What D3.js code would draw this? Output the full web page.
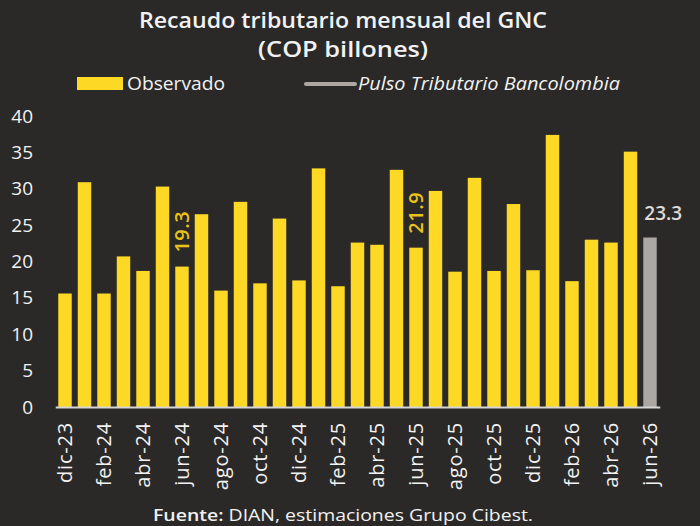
<!DOCTYPE html>
<html>
<head>
  <meta charset="utf-8">
  <title>Recaudo tributario mensual del GNC</title>
  <script src="https://d3js.org/d3.v7.min.js"></script>
  <style>
    body { margin: 0; background: #2b2928; }
    svg { display: block; font-family: "Open Sans", sans-serif; }
  </style>
</head>
<body>
<div id="output"></div>

<script type="text/javascript">

  // data
  var months = ["dic-23","ene-24","feb-24","mar-24","abr-24","may-24","jun-24","jul-24","ago-24","sep-24",
                "oct-24","nov-24","dic-24","ene-25","feb-25","mar-25","abr-25","may-25","jun-25","jul-25",
                "ago-25","sep-25","oct-25","nov-25","dic-25","ene-26","feb-26","mar-26","abr-26","may-26","jun-26"];
  var values = [15.6, 30.9, 15.6, 20.7, 18.7, 30.3, 19.3, 26.5, 16.0, 28.2,
                17.0, 25.9, 17.4, 32.8, 16.6, 22.6, 22.3, 32.6, 21.9, 29.7,
                18.6, 31.5, 18.7, 27.9, 18.8, 37.4, 17.3, 23.0, 22.6, 35.1, 23.3];
  var estimated = ["jun-26"];          // Pulso Tributario Bancolombia
  var labeled = ["jun-24", "jun-25"];  // bars with a value label
  var yTicks = [0, 5, 10, 15, 20, 25, 30, 35, 40];

  var data = months.map(function(m, i){ return {month: m, value: values[i]}; });

  var w = 700, h = 526;
  var margin = {top: 116, right: 40, bottom: 119, left: 55};
  var wChart = w - margin.left - margin.right;
  var hChart = h - margin.top - margin.bottom;

  var yellow = "#fdd925", grey = "#aca7a2", text = "#f2f2f2";

  var x = d3.scaleBand()
          .domain(months)
          .range([0.25, wChart - 0.25])
          .paddingInner(0.31)
          .paddingOuter(0.155);

  var y = d3.scaleLinear()
          .domain([0, 40])
          .range([hChart, 0]);

  var svg = d3.select("#output").append("svg")
          .attr("width", w)
          .attr("height", h);

  svg.append("rect").attr("width", w).attr("height", h).attr("fill", "#2b2928");

  // title
  svg.append("text")
          .attr("x", 343).attr("y", 28)
          .attr("text-anchor", "middle")
          .attr("fill", text)
          .style("font-size", "22px").style("font-weight", 600)
          .attr("textLength", 408).attr("lengthAdjust", "spacingAndGlyphs")
          .text("Recaudo tributario mensual del GNC");
  svg.append("text")
          .attr("x", 343).attr("y", 57)
          .attr("text-anchor", "middle")
          .attr("fill", text)
          .style("font-size", "22px").style("font-weight", 600)
          .attr("textLength", 170).attr("lengthAdjust", "spacingAndGlyphs")
          .text("(COP billones)");

  // legend
  var legend = svg.append("g");
  legend.append("rect")
          .attr("x", 77).attr("y", 77).attr("width", 46).attr("height", 13)
          .attr("fill", yellow);
  legend.append("text")
          .attr("x", 127).attr("y", 90)
          .attr("fill", text).style("font-size", "18px")
          .attr("textLength", 98).attr("lengthAdjust", "spacingAndGlyphs")
          .text("Observado");
  legend.append("line")
          .attr("x1", 306).attr("x2", 355).attr("y1", 84).attr("y2", 84)
          .attr("stroke", grey).attr("stroke-width", 4).attr("stroke-linecap", "round");
  legend.append("text")
          .attr("x", 358).attr("y", 90)
          .attr("fill", text).style("font-size", "18px").style("font-style", "italic")
          .attr("textLength", 262).attr("lengthAdjust", "spacingAndGlyphs")
          .text("Pulso Tributario Bancolombia");

  var chart = svg.append("g")
          .attr("transform", "translate(" + margin.left + "," + margin.top + ")");

  // y axis labels (no line, no ticks)
  var yAxis = d3.axisLeft(y).tickValues(yTicks).tickSize(0).tickPadding(22);
  chart.append("g")
          .attr("class", "axis")
          .call(yAxis)
          .call(function(g){ g.select(".domain").remove(); })
          .selectAll("text")
          .attr("fill", text)
          .style("font-size", "19px")
          .style("font-family", "Open Sans, sans-serif");

  chart.selectAll(".bar")
          .data(data)
          .enter()
          .append("rect")
          .attr("class", "bar")
          .attr("x", function(d){ return x(d.month); })
          .attr("width", x.bandwidth())
          .attr("y", function(d){ return y(d.value); })
          .attr("height", function(d){ return y(0) - y(d.value); })
          .attr("fill", function(d){ return estimated.indexOf(d.month) >= 0 ? grey : yellow; });

  // x axis: line + every other month label
  var xAxis = d3.axisBottom(x)
          .tickSize(0)
          .tickValues(months.filter(function(m, i){ return i % 2 === 0; }));
  var gx = chart.append("g")
          .attr("class", "axis")
          .attr("transform", "translate(0," + hChart + ")")
          .call(xAxis);
  gx.select(".domain").attr("stroke", "#d6d6d6").attr("stroke-width", 2);
  gx.selectAll("text")
          .attr("fill", text)
          .style("font-size", "20px")
          .style("letter-spacing", "0.8px")
          .style("font-family", "Open Sans, sans-serif")
          .attr("text-anchor", "end")
          .attr("transform", "rotate(-90)")
          .attr("x", -15)
          .attr("y", 0)
          .attr("dy", "0.36em");

  // value labels
  chart.selectAll(".vlabel")
          .data(data.filter(function(d){ return labeled.indexOf(d.month) >= 0; }))
          .enter()
          .append("text")
          .attr("class", "vlabel")
          .attr("transform", function(d){
            return "translate(" + (x(d.month) + x.bandwidth() / 2) + "," + (y(d.value) - 14) + ") rotate(-90)";
          })
          .attr("dy", "0.36em")
          .attr("fill", "#e9c21c")
          .style("font-size", "20px").style("font-weight", 600)
          .style("letter-spacing", "0.5px")
          .text(function(d){ return d.value.toFixed(1); });

  chart.selectAll(".elabel")
          .data(data.filter(function(d){ return estimated.indexOf(d.month) >= 0; }))
          .enter()
          .append("text")
          .attr("class", "elabel")
          .attr("x", function(d){ return x(d.month) + 1; })
          .attr("y", function(d){ return y(d.value) - 17; })
          .attr("fill", "#dedad6")
          .style("font-size", "19px").style("font-weight", 600)
          .text(function(d){ return d.value.toFixed(1); });

  // source
  var src = svg.append("text")
          .attr("x", 343).attr("y", 521)
          .attr("text-anchor", "middle")
          .attr("fill", text)
          .style("font-size", "17px")
          .attr("textLength", 380).attr("lengthAdjust", "spacingAndGlyphs");
  src.append("tspan").style("font-weight", 600).text("Fuente:");
  src.append("tspan").text(" DIAN, estimaciones Grupo Cibest.");

</script>
</body>
</html>
